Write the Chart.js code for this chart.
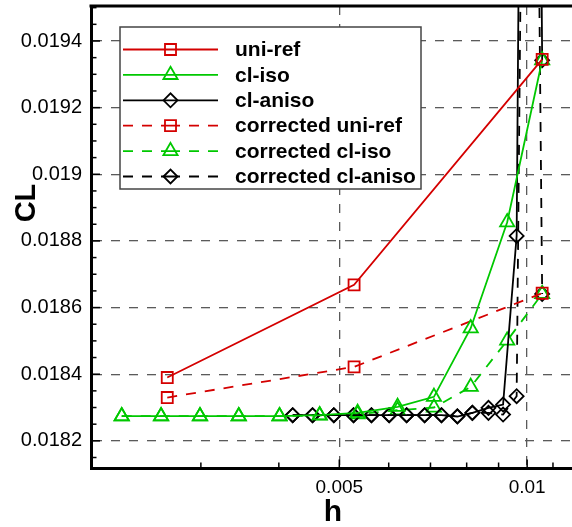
<!DOCTYPE html>
<html>
<head>
<meta charset="utf-8">
<script src="https://cdn.jsdelivr.net/npm/chart.js@4.4.1/dist/chart.umd.min.js"></script>
<style>
  html, body { margin: 0; padding: 0; background: #fff; }
  #wrap { position: relative; width: 572px; height: 527px; }
</style>
</head>
<body>
<div id="wrap"><canvas id="clChart" width="572" height="527"></canvas></div>
<script>
// ---- data (h = mesh size, CL = lift coefficient) ----
var hUni = [0.00265, 0.00528, 0.01057];
var clUni = [0.018390, 0.018668, 0.019345];
var clUniCorr = [0.018330, 0.018422, 0.018643];

var hIso = [0.00224, 0.00259, 0.00299, 0.00345, 0.00401, 0.00465, 0.00535, 0.00620, 0.00709, 0.00812, 0.00929, 0.01057];
var clIso = [0.018274, 0.018274, 0.018274, 0.018274, 0.018274, 0.018277, 0.018284, 0.018302, 0.018332, 0.018538, 0.018856, 0.019342];
var clIsoCorr = [0.018274, 0.018274, 0.018274, 0.018274, 0.018274, 0.018276, 0.018280, 0.018292, 0.018300, 0.018362, 0.018501, 0.018641];

var hAniso = [0.00421, 0.00453, 0.00490, 0.00527, 0.00563, 0.00601, 0.00641, 0.00685, 0.00729, 0.00773, 0.00817, 0.00867, 0.00915, 0.00962, 0.01010, 0.01057];
var clAniso = [0.018277, 0.018277, 0.018277, 0.018277, 0.018277, 0.018277, 0.018277, 0.018277, 0.018277, 0.018273, 0.018284, 0.018299, 0.018309, 0.018815, 0.02400, 0.019342];
var clAnisoCorr = [0.018277, 0.018277, 0.018277, 0.018277, 0.018277, 0.018277, 0.018277, 0.018277, 0.018277, 0.018274, 0.018284, 0.018284, 0.018279, 0.018334, 0.02250, 0.018641];

var xTickValues = [0.005, 0.01];
var xTickLabels = ['0.005', '0.01'];
var xMinorTicks = [0.003, 0.004, 0.006, 0.007, 0.008, 0.009, 0.011];
var yTickValues = [0.0182, 0.0184, 0.0186, 0.0188, 0.019, 0.0192, 0.0194];
var yTickLabels = ['0.0182', '0.0184', '0.0186', '0.0188', '0.019', '0.0192', '0.0194'];
var yMinorTicks = [0.01815, 0.01825, 0.0183, 0.01835, 0.01845, 0.0185, 0.01855, 0.01865, 0.0187, 0.01875,
                   0.01885, 0.0189, 0.01895, 0.01905, 0.0191, 0.01915, 0.01925, 0.0193, 0.01935, 0.01945, 0.0195];

var RED = '#d40000', GREEN = '#00c800', BLACK = '#000000';
var DASH = [10, 9];
var FONT = '"Liberation Sans", Arial, Helvetica, sans-serif';

function pts(xs, ys) {
  return xs.map(function (x, i) { return { x: x, y: ys[i] }; });
}

// same order as the legend box
var series = [
  { label: 'uni-ref',            h: hUni,   cl: clUni,       color: RED,   style: 'rect',    r: 7.8, dash: [] },
  { label: 'cl-iso',             h: hIso,   cl: clIso,       color: GREEN, style: 'triangle', r: 8.2, dash: [] },
  { label: 'cl-aniso',           h: hAniso, cl: clAniso,     color: BLACK, style: 'rectRot', r: 7,   dash: [] },
  { label: 'corrected uni-ref',  h: hUni,   cl: clUniCorr,   color: RED,   style: 'rect',    r: 7.8, dash: DASH },
  { label: 'corrected cl-iso',   h: hIso,   cl: clIsoCorr,   color: GREEN, style: 'triangle', r: 8.2, dash: DASH },
  { label: 'corrected cl-aniso', h: hAniso, cl: clAnisoCorr, color: BLACK, style: 'rectRot', r: 7,   dash: DASH }
];

var datasets = series.map(function (s) {
  return {
    label: s.label,
    data: pts(s.h, s.cl),
    borderColor: s.color,
    borderWidth: 1.8,
    borderDash: s.dash,
    backgroundColor: 'rgba(0,0,0,0)',
    pointStyle: s.style,
    pointRadius: s.r,
    pointBorderWidth: 1.8,
    pointBorderColor: s.color,
    pointBackgroundColor: 'rgba(0,0,0,0)',
    tension: 0,
    fill: false
  };
});

function drawMarker(ctx, style, r, x, y) {
  ctx.beginPath();
  if (style === 'rect') {
    var s = r * Math.SQRT1_2;
    ctx.rect(x - s, y - s, 2 * s, 2 * s);
  } else if (style === 'triangle') {
    ctx.moveTo(x, y - r);
    ctx.lineTo(x + r * Math.sin(2 * Math.PI / 3), y + r / 2);
    ctx.lineTo(x - r * Math.sin(2 * Math.PI / 3), y + r / 2);
    ctx.closePath();
  } else {
    ctx.moveTo(x - r, y);
    ctx.lineTo(x, y - r);
    ctx.lineTo(x + r, y);
    ctx.lineTo(x, y + r);
    ctx.closePath();
  }
  ctx.stroke();
}

/* frame: top border, inward ticks, axis titles and the boxed legend */
var framePlugin = {
  id: 'frame',
  afterDraw: function (chart) {
    var ctx = chart.ctx, a = chart.chartArea;
    var xs = chart.scales.x, ys = chart.scales.y;
    ctx.save();

    // top border
    ctx.strokeStyle = '#000';
    ctx.lineWidth = 3;
    ctx.beginPath();
    ctx.moveTo(a.left - 1.5, a.top);
    ctx.lineTo(a.right, a.top);
    ctx.stroke();

    // inward ticks
    ctx.lineWidth = 1.5;
    function tick(x1, y1, x2, y2) {
      ctx.beginPath(); ctx.moveTo(x1, y1); ctx.lineTo(x2, y2); ctx.stroke();
    }
    yTickValues.forEach(function (v) { var p = ys.getPixelForValue(v); tick(a.left, p, a.left + 9, p); });
    yMinorTicks.forEach(function (v) { var p = ys.getPixelForValue(v); tick(a.left, p, a.left + 5.5, p); });
    xTickValues.forEach(function (v) { var p = xs.getPixelForValue(v); tick(p, a.bottom, p, a.bottom - 9); });
    xMinorTicks.forEach(function (v) { var p = xs.getPixelForValue(v); tick(p, a.bottom, p, a.bottom - 6); });

    // axis titles
    ctx.fillStyle = '#000';
    ctx.font = 'bold 30px ' + FONT;
    ctx.textAlign = 'center';
    ctx.textBaseline = 'alphabetic';
    ctx.fillText('h', 333, 521);
    ctx.save();
    ctx.translate(35, 203);
    ctx.rotate(-Math.PI / 2);
    ctx.font = 'bold 29px ' + FONT;
    ctx.fillText('CL', 0, 0);
    ctx.restore();

    // legend box
    var bx = 120, by = 27, bw = 301, bh = 162;
    ctx.fillStyle = '#fff';
    ctx.fillRect(bx, by, bw, bh);
    ctx.strokeStyle = '#444';
    ctx.lineWidth = 1.5;
    ctx.strokeRect(bx, by, bw, bh);

    ctx.font = 'bold 21px ' + FONT;
    ctx.textAlign = 'left';
    ctx.textBaseline = 'middle';
    series.forEach(function (s, i) {
      var yy = 49.5 + i * 25.4;
      ctx.strokeStyle = s.color;
      ctx.lineWidth = 1.8;
      ctx.setLineDash(s.dash);
      ctx.beginPath(); ctx.moveTo(123, yy); ctx.lineTo(170, yy); ctx.stroke();
      ctx.beginPath(); ctx.moveTo(218, yy); ctx.lineTo(170, yy); ctx.stroke();
      ctx.setLineDash([]);
      drawMarker(ctx, s.style, s.r, 170.5, yy);
      ctx.fillStyle = '#000';
      ctx.fillText(s.label, 235, yy + 1);
    });

    ctx.restore();
  }
};

new Chart(document.getElementById('clChart'), {
  type: 'line',
  data: { datasets: datasets },
  options: {
    responsive: false,
    animation: false,
    layout: { autoPadding: false, padding: { top: 6, right: 0, bottom: 0, left: 0 } },
    plugins: { legend: { display: false }, tooltip: { enabled: false } },
    scales: {
      x: {
        type: 'logarithmic',
        min: 0.002,
        max: 0.0118,
        afterBuildTicks: function (s) { s.ticks = xTickValues.map(function (v) { return { value: v }; }); },
        afterFit: function (s) {
          s.height = 58.5;
          s.paddingLeft = 0; s.paddingRight = 0; s.paddingTop = 0; s.paddingBottom = 0;
        },
        ticks: {
          autoSkip: false, maxRotation: 0, padding: 8, color: '#000',
          font: { family: FONT, size: 19 },
          callback: function (v, i) { return xTickLabels[i]; }
        },
        grid: { color: '#5a5a5a', lineWidth: 1.3, drawTicks: false },
        border: { display: true, color: '#000', width: 3, dash: [9, 9] }
      },
      y: {
        type: 'linear',
        min: 0.018117,
        max: 0.019505,
        afterBuildTicks: function (s) { s.ticks = yTickValues.map(function (v) { return { value: v }; }); },
        afterFit: function (s) {
          s.width = 91;
          s.paddingLeft = 0; s.paddingRight = 0; s.paddingTop = 0; s.paddingBottom = 0;
        },
        ticks: {
          autoSkip: false, padding: 9, color: '#000',
          font: { family: FONT, size: 20 },
          callback: function (v, i) { return yTickLabels[i]; }
        },
        grid: { color: '#5a5a5a', lineWidth: 1.3, drawTicks: false },
        border: { display: true, color: '#000', width: 3, dash: [9, 9] }
      }
    }
  },
  plugins: [framePlugin]
});
</script>
</body>
</html>
